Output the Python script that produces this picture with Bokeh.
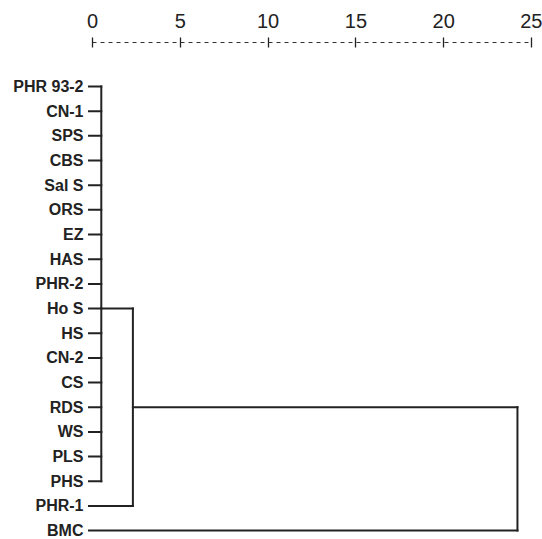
from bokeh.plotting import figure
from bokeh.models import Range1d, FixedTicker
from bokeh.embed import file_html
from bokeh.resources import INLINE

# ---- data ----
labels = ["PHR 93-2", "CN-1", "SPS", "CBS", "Sal S", "ORS", "EZ", "HAS", "PHR-2",
          "Ho S", "HS", "CN-2", "CS", "RDS", "WS", "PLS", "PHS", "PHR-1", "BMC"]
scale_ticks = [0, 5, 10, 15, 20, 25]
# merges: (first row, last row, joining distance, row where the link leaves)
merge_first = [0, 9, 13]
merge_last = [16, 17, 18]
merge_height = [0.5, 2.3, 24.2]
merge_out_row = [9, 13, None]
leaf_height = [0.5] * 17 + [2.3, 24.2]   # where each leaf joins
leaf_start = -0.2

rows = list(range(len(labels)))

p = figure(width=542, height=538, output_backend="svg", toolbar_location=None,
           x_range=Range1d(-0.342, 25.0), y_range=Range1d(18.24, -1.784),
           x_axis_location="above", min_border_left=86, min_border_right=11,
           min_border_top=42, min_border_bottom=2)
p.outline_line_color = None
p.grid.visible = False
p.background_fill_color = "white"

# top scale
xa = p.xaxis[0]
xa.ticker = FixedTicker(ticks=scale_ticks)
xa.bounds = (0, 25)
xa.axis_line_dash = "4 4"
xa.axis_line_color = "#333333"
xa.axis_line_width = 1.2
xa.major_tick_in = 5
xa.major_tick_out = 5
xa.major_tick_line_color = "#222222"
xa.major_tick_line_width = 1.3
xa.minor_tick_line_color = None
xa.major_label_text_font = "Liberation Sans"
xa.major_label_text_font_size = "20px"
xa.major_label_text_color = "#222222"
xa.major_label_standoff = 10

# left labels
ya = p.yaxis[0]
ya.ticker = FixedTicker(ticks=rows)
ya.major_label_overrides = {i: l for i, l in enumerate(labels)}
ya.axis_line_color = None
ya.major_tick_line_color = None
ya.major_tick_out = 0
ya.major_tick_in = 0
ya.minor_tick_line_color = None
ya.major_label_text_font = "Liberation Sans"
ya.major_label_text_font_style = "bold"
ya.major_label_text_font_size = "16px"
ya.major_label_text_color = "#222222"
ya.major_label_standoff = 3

# dendrogram segments
x0, y0, x1, y1 = [], [], [], []
for r, h in zip(rows, leaf_height):
    x0.append(leaf_start); y0.append(r); x1.append(h); y1.append(r)
for i in range(len(merge_height)):
    h = merge_height[i]
    x0.append(h); y0.append(merge_first[i]); x1.append(h); y1.append(merge_last[i])
    if merge_out_row[i] is not None and i + 1 < len(merge_height):
        x0.append(h); y0.append(merge_out_row[i])
        x1.append(merge_height[i + 1]); y1.append(merge_out_row[i])

p.segment(x0=x0, y0=y0, x1=x1, y1=y1, line_color="#222222", line_width=2,
          line_cap="square")

open("out.html", "w").write(file_html(p, INLINE))
